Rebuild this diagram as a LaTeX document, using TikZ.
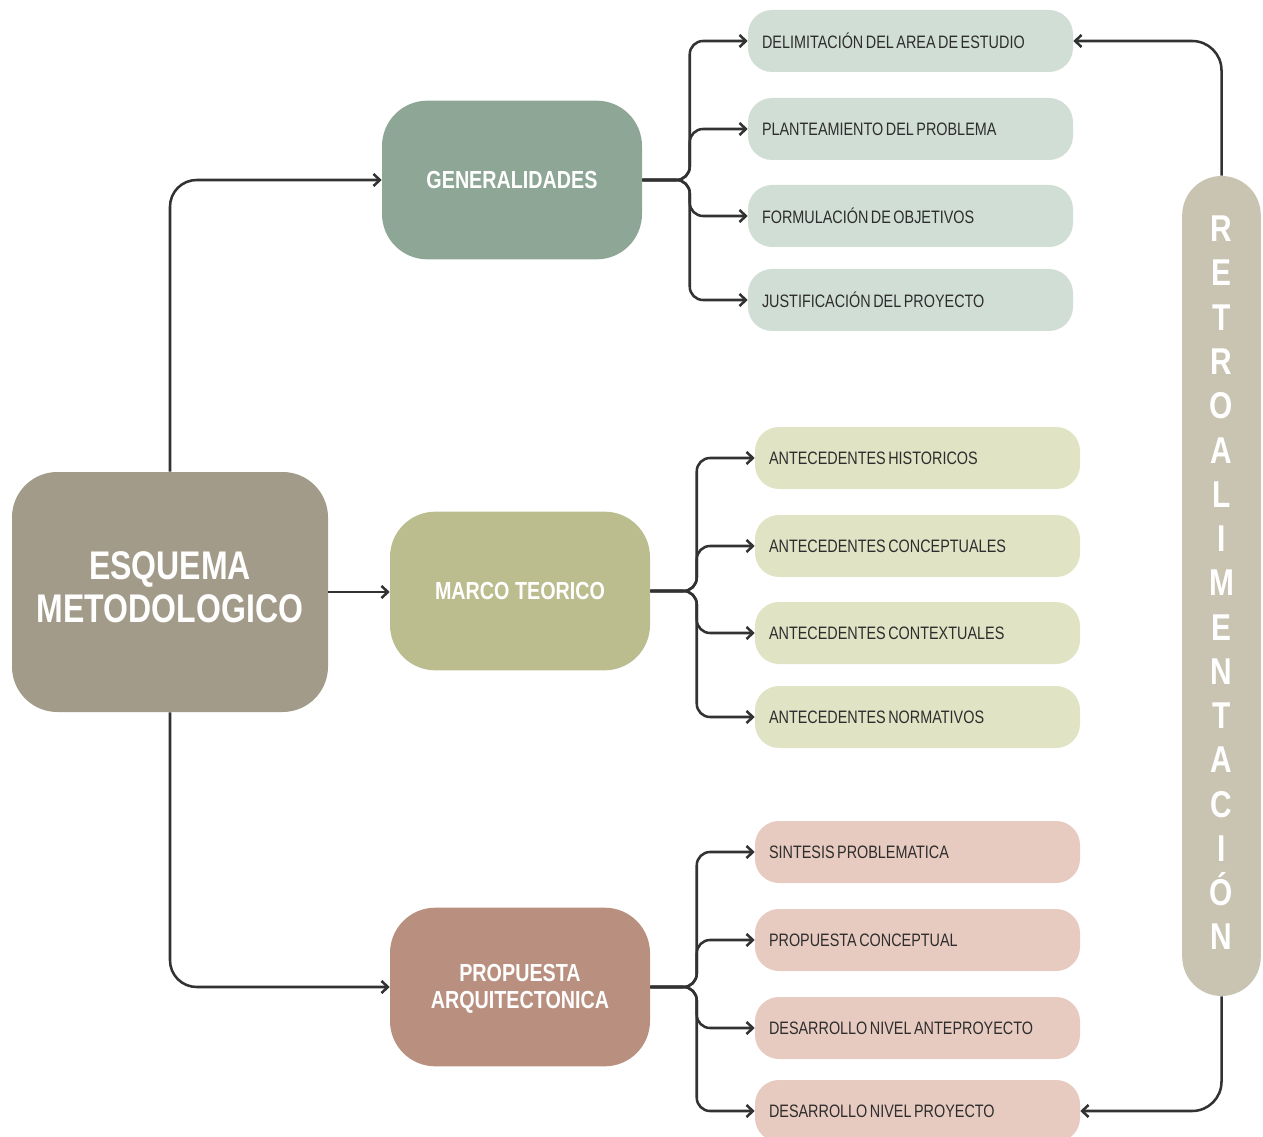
\documentclass[tikz,border=0pt]{standalone}
\usepackage{fontspec}
\setmainfont{Liberation Sans}[FakeStretch=0.8]
\usetikzlibrary{arrows.meta,calc}

\definecolor{mainc}{RGB}{163,155,137}
\definecolor{genc}{RGB}{142,166,150}
\definecolor{marcoc}{RGB}{187,189,143}
\definecolor{propc}{RGB}{185,143,127}
\definecolor{genl}{RGB}{209,222,214}
\definecolor{marcol}{RGB}{225,227,197}
\definecolor{propl}{RGB}{232,203,192}
\definecolor{retroc}{RGB}{201,195,178}
\definecolor{linec}{RGB}{50,50,50}
\definecolor{textc}{RGB}{45,45,45}

\begin{document}
\begin{tikzpicture}[x=0.75pt,y=-0.75pt,
  conn/.style={draw=linec, line width=1.9pt,
    -{Straight Barb[length=4.8pt,width=9pt]}},
  mainbox/.style={fill=mainc, rounded corners=34pt, minimum width=237pt,
    minimum height=180pt},
  maintext/.style={align=center, text=white,
    font=\fontsize{30pt}{32.5pt}\selectfont\bfseries},
  phase/.style={rounded corners=34pt, minimum width=195pt,
    minimum height=119pt},
  phasetext/.style={align=center, text=white,
    font=\fontsize{18.5pt}{20.5pt}\selectfont\bfseries},
  leaf/.style={rounded corners=18pt, minimum width=243.75pt,
    minimum height=46.5pt, text width=222.75pt, inner xsep=10.5pt,
    align=left, text=textc, font=\fontsize{13.5pt}{16pt}\selectfont,
    execute at begin node={\spaceskip=1.9pt plus 0.5pt\relax}},
  retrobox/.style={fill=retroc, rounded corners=29.5pt, minimum width=59pt,
    minimum height=615pt},
  retrotext/.style={align=center, text=white, inner sep=0pt,
    font=\fontsize{28pt}{33.2pt}\selectfont\bfseries}
]
\useasboundingbox (0,0) rectangle (1263,1137);

% central node
\node[mainbox] (esq) at (170,592) {};
\node[maintext] (esqtext) at (170,587) {ESQUEMA\\METODOLOGICO};

% the three phases
\node[phase, fill=genc]   (gen)   at (512,180) {};
\node[phasetext] (gentext) at (512,180) {GENERALIDADES};
\node[phase, fill=marcoc] (marco) at (520,591) {};
\node[phasetext] (marcotext) at (520,591) {MARCO TEORICO};
\node[phase, fill=propc]  (prop)  at (520,987) {};
\node[phasetext] (proptext) at (520,989) {PROPUESTA\\ARQUITECTONICA};

% generalidades items
\node[leaf, fill=genl] (g1) at (910.5,41)  {DELIMITACIÓN DEL AREA DE ESTUDIO};
\node[leaf, fill=genl] (g2) at (910.5,129) {PLANTEAMIENTO DEL PROBLEMA};
\node[leaf, fill=genl] (g3) at (910.5,216) {FORMULACIÓN DE OBJETIVOS};
\node[leaf, fill=genl] (g4) at (910.5,300) {JUSTIFICACIÓN DEL PROYECTO};

% marco teorico items
\node[leaf, fill=marcol] (m1) at (917.5,458) {ANTECEDENTES HISTORICOS};
\node[leaf, fill=marcol] (m2) at (917.5,546) {ANTECEDENTES CONCEPTUALES};
\node[leaf, fill=marcol] (m3) at (917.5,633) {ANTECEDENTES CONTEXTUALES};
\node[leaf, fill=marcol] (m4) at (917.5,717) {ANTECEDENTES NORMATIVOS};

% propuesta items
\node[leaf, fill=propl] (p1) at (917.5,852)  {SINTESIS PROBLEMATICA};
\node[leaf, fill=propl] (p2) at (917.5,940)  {PROPUESTA CONCEPTUAL};
\node[leaf, fill=propl] (p3) at (917.5,1028) {DESARROLLO NIVEL ANTEPROYECTO};
\node[leaf, fill=propl] (p4) at (917.5,1111) {DESARROLLO NIVEL PROYECTO};

% feedback bar
\node[retrobox] (retro) at (1221.5,586) {};
\node[retrotext] (retrotext) at (1221.5,583)
  {R\\E\\T\\R\\O\\A\\L\\I\\M\\E\\N\\T\\A\\C\\I\\Ó\\N};

% central node to phases
\draw[conn, rounded corners=20pt] (esq.north) |- (gen.west);
\draw[conn] (esq.east) -- (marco.west |- esq.east);
\draw[conn, rounded corners=20pt] (esq.south) |- (prop.west);

% brace-like branches
\foreach \leafnode in {g1,g2,g3,g4}
  \draw[conn, rounded corners=10pt] (gen.east) -| ($(\leafnode.west)+(-58,0)$) -- (\leafnode.west);
\foreach \leafnode in {m1,m2,m3,m4}
  \draw[conn, rounded corners=10pt] (marco.east) -| ($(\leafnode.west)+(-58,0)$) -- (\leafnode.west);
\foreach \leafnode in {p1,p2,p3,p4}
  \draw[conn, rounded corners=10pt] (prop.east) -| ($(\leafnode.west)+(-58,0)$) -- (\leafnode.west);

% feedback loops
\draw[conn, rounded corners=22pt] (retro.north) |- (g1.east);
\draw[conn, rounded corners=22pt] (retro.south) |- (p4.east);
\end{tikzpicture}
\end{document}
